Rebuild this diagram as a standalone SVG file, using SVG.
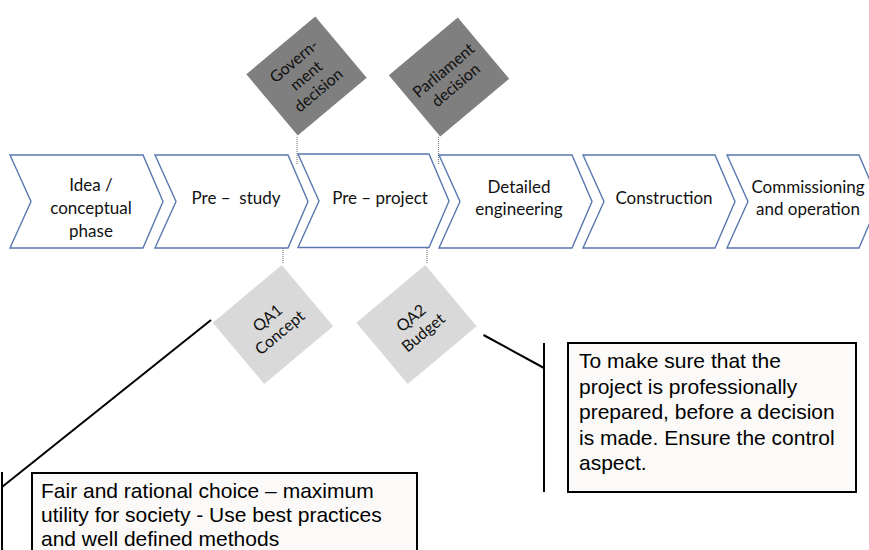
<svg xmlns="http://www.w3.org/2000/svg" width="869" height="550" viewBox="0 0 869 550">
<style>
.chev{fill:#fff;stroke:#5877b0;stroke-width:1.4;stroke-linejoin:miter}
.ct{font-family:Lato,"Liberation Sans",sans-serif;font-size:17px;fill:#111;text-anchor:middle}
.dt{font-family:Lato,"Liberation Sans",sans-serif;font-size:16px;fill:#111;text-anchor:middle}
.dark{fill:#7f7f7f}
.light{fill:#d9d9d9}
.dot{stroke:#808080;stroke-width:1.2;stroke-dasharray:1 1;fill:none}
.call{stroke:#000;stroke-width:2;fill:none}
.box{fill:#fbfaf8;stroke:#000;stroke-width:2}
.bt{font-family:"Liberation Sans",Arial,sans-serif;font-size:21px;fill:#000}
</style>
<rect width="869" height="550" fill="#fff"/>
<g id="connectors">
<line class="dot" x1="297" y1="137" x2="297" y2="165"/>
<line class="dot" x1="438.5" y1="137" x2="438.5" y2="165"/>
<line class="dot" x1="283" y1="236" x2="283" y2="264"/>
<line class="dot" x1="427" y1="236" x2="427" y2="264"/>
<polyline class="call" points="211,320 2,487"/>
<line class="call" x1="2" y1="472" x2="2" y2="550"/>
<polyline class="call" points="483.5,335 544,368"/>
<line class="call" x1="544" y1="343" x2="544" y2="492"/>
</g>
<g id="idea">
<polygon class="chev" points="10,155 143,155 163,201.5 143,248 10,248 31,201.5"/>
<text class="ct"><tspan x="91" y="191">Idea /</tspan><tspan x="91" y="214">conceptual</tspan><tspan x="91" y="237">phase</tspan></text>
</g>
<g id="prestudy">
<polygon class="chev" points="155,155 288,155 308,201.5 288,248 155,248 176,201.5"/>
<text class="ct" x="236" y="204" xml:space="preserve">Pre –  study</text>
</g>
<g id="preproject">
<polygon class="chev" points="298,154 429,154 449,201 429,247.5 298,247.5 319,201"/>
<text class="ct" x="380" y="204">Pre – project</text>
</g>
<g id="detailed">
<polygon class="chev" points="439,155 572,155 592,201.5 572,248 439,248 460,201.5"/>
<text class="ct"><tspan x="519" y="193">Detailed</tspan><tspan x="519" y="215">engineering</tspan></text>
</g>
<g id="construction">
<polygon class="chev" points="583,155 715,155 735,201.5 715,248 583,248 604,201.5"/>
<text class="ct" x="664" y="204">Construction</text>
</g>
<g id="commissioning">
<polygon class="chev" points="727,155 859,155 879,201.5 859,248 727,248 748,201.5"/>
<text class="ct"><tspan x="808" y="193">Commissioning</tspan><tspan x="808" y="215">and operation</tspan></text>
</g>
<g id="government" transform="translate(306.5,76) rotate(-40)">
<rect class="dark" x="-45" y="-40" width="90" height="80"/>
<text class="dt"><tspan x="0" y="-14">Govern-</tspan><tspan x="0" y="5">ment</tspan><tspan x="0" y="24">decision</tspan></text>
</g>
<g id="parliament" transform="translate(449,77) rotate(-40)">
<rect class="dark" x="-45" y="-40" width="90" height="80"/>
<text class="dt"><tspan x="0" y="-3">Parliament</tspan><tspan x="0" y="16">decision</tspan></text>
</g>
<g id="qa1" transform="translate(273,324.5) rotate(-40)">
<rect class="light" x="-45" y="-40" width="90" height="80"/>
<text class="dt"><tspan x="0" y="-3">QA1</tspan><tspan x="0" y="16">Concept</tspan></text>
</g>
<g id="qa2" transform="translate(416.5,324.5) rotate(-40)">
<rect class="light" x="-45" y="-40" width="90" height="80"/>
<text class="dt"><tspan x="0" y="-3">QA2</tspan><tspan x="0" y="16">Budget</tspan></text>
</g>
<g id="note-right">
<rect class="box" x="568" y="343" width="288" height="149"/>
<text class="bt"><tspan x="579" y="368">To make sure that the</tspan><tspan x="579" y="393.5">project is professionally</tspan><tspan x="579" y="419">prepared, before a decision</tspan><tspan x="579" y="444.5">is made. Ensure the control</tspan><tspan x="579" y="470">aspect.</tspan></text>
</g>
<g id="note-left">
<rect class="box" x="32" y="473" width="385" height="90"/>
<text class="bt"><tspan x="41" y="498">Fair and rational choice – maximum</tspan><tspan x="41" y="522">utility for society - Use best practices</tspan><tspan x="41" y="546">and well defined methods</tspan></text>
</g>
</svg>
